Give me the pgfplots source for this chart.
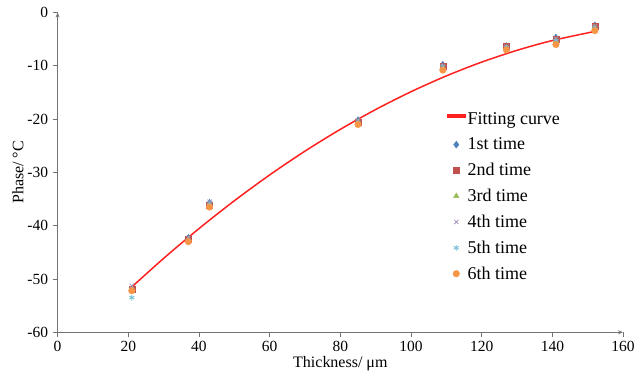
\documentclass[border=0pt]{standalone}
\usepackage{pgfplots}
\pgfplotsset{compat=1.18}
\usepackage{pgfplotstable}
\usetikzlibrary{arrows.meta}
\usepackage{fontspec}
\setmainfont{Liberation Serif}
\definecolor{c1}{HTML}{4F81BD}
\definecolor{c2}{HTML}{C0504D}
\definecolor{c3}{HTML}{9BBB59}
\definecolor{c4}{HTML}{8064A2}
\definecolor{c5}{HTML}{4BACC6}
\definecolor{c6}{HTML}{F79646}
\definecolor{fitred}{HTML}{FF2020}
\pgfplotsset{shortline/.style={legend image code/.code={\fill[fitred] (0pt,2.6pt) rectangle (0.6cm,4.2pt);}}}
\pgfplotstableread{
x y
21 -51.50
30 -46.14
40 -40.55
50 -35.33
60 -30.48
70 -26.01
80 -21.92
90 -18.20
100 -14.86
110 -11.89
120 -9.30
130 -7.09
140 -5.25
152 -3.54
}\fitcurve
\pgfplotstableread{
x s1 s2 s3 s4 s5 s6
21 -52.0 -52.0 -51.8 -51.3 -53.5 -52.2
37 -42.3 -42.5 -42.6 -42.3 -42.8 -43.0
43 -35.7 -36.2 -36.0 -35.5 -36.0 -36.5
85 -20.2 -20.5 -20.5 -20.3 -20.6 -21.0
109 -9.8 -10.0 -10.3 -10.0 -10.2 -10.8
127 -6.3 -6.4 -6.6 -6.4 -6.6 -7.0
141 -4.7 -5.0 -5.2 -4.9 -5.3 -6.0
152 -2.4 -2.6 -2.8 -2.6 -2.9 -3.4
}\meas
\begin{document}
\begin{tikzpicture}
\begin{axis}[
  scale only axis, width=566pt, height=320pt,
  xmin=0, xmax=160, ymin=-60, ymax=0,
  axis lines=left,
  axis line style={black!55, line width=0.8pt, -{Stealth[length=5pt,width=4pt]}},
  xtick={0,20,...,160}, ytick={-60,-50,...,0},
  tick align=outside, major tick length=5pt,
  tick style={black!55, line width=0.8pt},
  ticklabel style={font=\fontsize{15.5}{18}\selectfont},
  yticklabel style={xshift=-1pt},
  /pgf/number format/assume math mode=true,
  label style={font=\fontsize{16}{19}\selectfont},
  xlabel={Thickness/ μm}, ylabel={Phase/ °C},
  xlabel style={yshift=2pt},
  ylabel style={yshift=-3pt},
  legend style={draw=none, fill=none, at={(rel axis cs:0.683,0.7)}, anchor=north west,
    font=\fontsize{18}{21}\selectfont, row sep=7.9pt, cells={anchor=west}},
  legend cell align=left,
]
\addplot[fitred, line width=1.5pt, smooth, no marks, shortline] table[x=x,y=y]{\fitcurve};
\addlegendentry{Fitting curve}
\addplot[only marks, mark=diamond*, mark size=3.5pt, color=c1] table[x=x,y=s1]{\meas};
\addlegendentry{1st time}
\addplot[only marks, mark=square*, mark size=3pt, color=c2] table[x=x,y=s2]{\meas};
\addlegendentry{2nd time}
\addplot[only marks, mark=triangle*, mark size=3.2pt, color=c3] table[x=x,y=s3]{\meas};
\addlegendentry{3rd time}
\addplot[only marks, mark=x, mark size=3pt, color=c4!70!white, line width=0.8pt] table[x=x,y=s4]{\meas};
\addlegendentry{4th time}
\addplot[only marks, mark=asterisk, mark size=3pt, color=c5!80!white, line width=0.8pt] table[x=x,y=s5]{\meas};
\addlegendentry{5th time}
\addplot[only marks, mark=*, mark size=3.3pt, color=c6] table[x=x,y=s6]{\meas};
\addlegendentry{6th time}
\end{axis}
\path ([xshift=-9pt]current bounding box.west);
\path ([yshift=4pt]current bounding box.north);
\end{tikzpicture}
\end{document}
